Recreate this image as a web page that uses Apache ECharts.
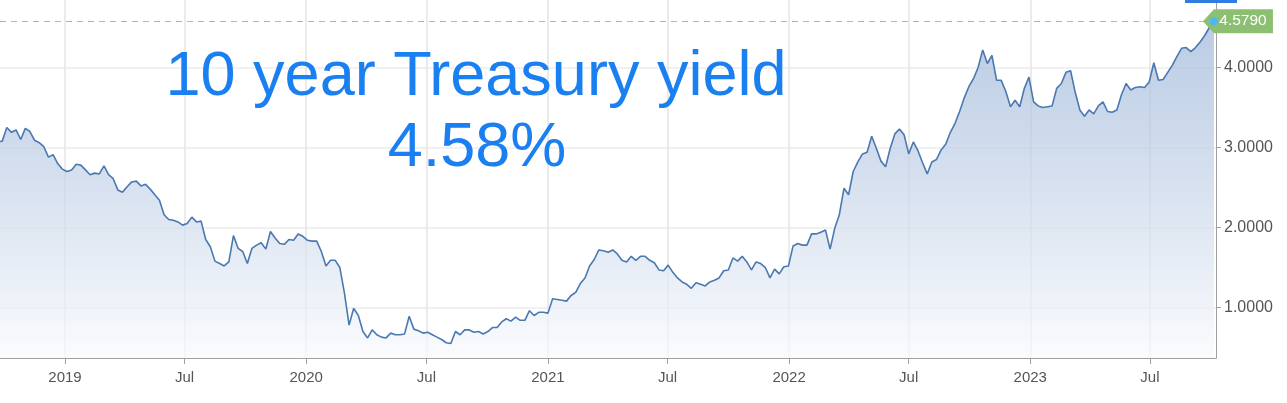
<!DOCTYPE html>
<html>
<head>
<meta charset="utf-8">
<script src="https://cdn.jsdelivr.net/npm/echarts@6/dist/echarts.min.js"></script>
<style>
html,body{margin:0;padding:0;background:#fff;}
#chart{width:1287px;height:403px;}
</style>
</head>
<body>
<div id="chart"></div>
<script>
// Weekly closes, first week ending 2018-09-21
const firstWeek = [2018, 8, 21];
const yields = [
  3.07, 3.08, 3.25, 3.19, 3.22, 3.10, 3.24, 3.20, 3.09, 3.06, 3.01,
  2.88, 2.91, 2.80, 2.73, 2.70, 2.72, 2.79, 2.78, 2.72, 2.66,
  2.68, 2.67, 2.77, 2.66, 2.61, 2.47, 2.44, 2.51, 2.57, 2.58,
  2.52, 2.54, 2.48, 2.41, 2.34, 2.16, 2.10, 2.09, 2.07, 2.03,
  2.05, 2.13, 2.07, 2.08, 1.85, 1.76, 1.58, 1.55, 1.52, 1.57,
  1.90, 1.74, 1.70, 1.55, 1.74, 1.78, 1.81, 1.73, 1.95, 1.87,
  1.80, 1.79, 1.85, 1.84, 1.92, 1.89, 1.84, 1.83, 1.83, 1.70,
  1.52, 1.59, 1.59, 1.50, 1.18, 0.78, 0.99, 0.90, 0.70, 0.62,
  0.72, 0.66, 0.63, 0.62, 0.68, 0.66, 0.66, 0.67, 0.89, 0.73,
  0.71, 0.68, 0.69, 0.66, 0.63, 0.60, 0.56, 0.55, 0.70, 0.66,
  0.72, 0.72, 0.69, 0.70, 0.67, 0.70, 0.75, 0.75, 0.82, 0.86,
  0.83, 0.88, 0.84, 0.84, 0.96, 0.90, 0.94, 0.94, 0.93, 1.11,
  1.10, 1.09, 1.08, 1.15, 1.19, 1.30, 1.37, 1.52, 1.60, 1.72,
  1.71, 1.69, 1.72, 1.67, 1.59, 1.57, 1.64, 1.59, 1.64, 1.64,
  1.59, 1.56, 1.47, 1.46, 1.53, 1.44, 1.37, 1.32, 1.29, 1.24,
  1.31, 1.29, 1.27, 1.32, 1.34, 1.37, 1.46, 1.47, 1.62, 1.58,
  1.64, 1.57, 1.47, 1.57, 1.55, 1.50, 1.37, 1.48, 1.42, 1.51,
  1.52, 1.77, 1.80, 1.78, 1.78, 1.92, 1.92, 1.94, 1.97, 1.73,
  1.99, 2.16, 2.49, 2.41, 2.70, 2.82, 2.92, 2.94, 3.14, 2.99,
  2.83, 2.76, 2.99, 3.17, 3.23, 3.16, 2.92, 3.07, 2.96, 2.81,
  2.67, 2.82, 2.85, 2.97, 3.04, 3.19, 3.30, 3.45, 3.62, 3.76,
  3.86, 4.00, 4.22, 4.05, 4.15, 3.84, 3.84, 3.70, 3.51, 3.59,
  3.51, 3.74, 3.88, 3.57, 3.52, 3.50, 3.51, 3.52, 3.74, 3.80,
  3.94, 3.96, 3.69, 3.47, 3.39, 3.47, 3.42, 3.52, 3.57, 3.45,
  3.44, 3.47, 3.66, 3.80, 3.72, 3.75, 3.76, 3.75, 3.82, 4.06,
  3.84, 3.85, 3.94, 4.03, 4.14, 4.24, 4.25, 4.20, 4.25, 4.32,
  4.40, 4.50, 4.579
];
const xTickDates = ['2019-01-01','2019-07-01','2020-01-01','2020-07-01','2021-01-01','2021-07-01','2022-01-01','2022-07-01','2023-01-01','2023-07-01'];
const xTickLabels = ['2019','Jul','2020','Jul','2021','Jul','2022','Jul','2023','Jul'];
const yTickValues = [1, 2, 3, 4];
const titleLines = ['10 year Treasury yield', '4.58%'];

function ts(s) { const p = s.split(/[- :]/).map(Number); return new Date(p[0], p[1]-1, p[2], p[3]||0, p[4]||0).getTime(); }
const weeks = yields.map((v, i) => new Date(firstWeek[0], firstWeek[1], firstWeek[2] + 7*i).getTime());
const seriesData = weeks.map((t, i) => [t, yields[i]]);
const xTicks = xTickDates.map(ts);
const labelOf = {}; xTicks.forEach((t, i) => labelOf[t] = xTickLabels[i]);
const xMin = ts('2018-09-24 16:00');
const xMax = ts('2023-10-09 02:00');
const lastT = weeks[weeks.length-1], lastV = yields[yields.length-1];

const chart = echarts.init(document.getElementById('chart'), null, {renderer:'canvas'});
const FONT = '"Liberation Sans", Arial, sans-serif';
chart.setOption({
  animation: false,
  backgroundColor: '#ffffff',
  grid: {left: 0, right: 71, top: 0, bottom: 45, containLabel: false},
  xAxis: {
    type: 'value', min: xMin, max: xMax,
    axisLine: {show: true, lineStyle: {color: '#a0a0a0', width: 1}},
    axisTick: {show: true, customValues: xTicks, length: 6, lineStyle: {color: '#a0a0a0'}},
    axisLabel: {customValues: xTicks, formatter: v => labelOf[v] || '', color: '#555', fontSize: 15, fontFamily: FONT, margin: 12, hideOverlap: false},
    splitLine: {show: true, lineStyle: {color: '#e4e4e4', width: 1.5}}
  },
  yAxis: {
    type: 'value', position: 'right', min: 0.369, max: 4.844,
    axisLine: {show: true, lineStyle: {color: '#a0a0a0', width: 1}},
    axisTick: {show: true, customValues: yTickValues, length: 5, lineStyle: {color: '#a0a0a0'}},
    axisLabel: {customValues: yTickValues, formatter: v => v.toFixed(4), color: '#555', fontSize: 16, fontFamily: FONT, margin: 8},
    splitLine: {show: true, lineStyle: {color: '#ececec', width: 1.5}}
  },
  series: [{
    type: 'line',
    data: seriesData,
    symbol: 'none',
    clip: true,
    lineStyle: {color: '#4a78b0', width: 1.6},
    areaStyle: {color: new echarts.graphic.LinearGradient(0, 0, 0, 1, [
      {offset: 0, color: '#9cb5d8'},
      {offset: 0.5, color: '#c7d5e9'},
      {offset: 1, color: '#f8fafd'}
    ])},
    markLine: {
      silent: true, symbol: ['none', 'none'], label: {show: false},
      lineStyle: {type: [6, 5], color: '#a5c095', width: 1},
      data: [[{coord: [xMin, lastV]}, {coord: [lastT, lastV]}]]
    },
    markPoint: {
      silent: true,
      data: [
        {coord: [lastT, lastV], symbol: 'path://M0,12 L11,0 L70,0 L70,24 L11,24 Z', symbolKeepAspect: false,
         symbolSize: [70, 24], symbolOffset: [24, 0], itemStyle: {color: '#8dbf72'},
         label: {show: true, position: 'inside', offset: [5, 0], formatter: () => lastV.toFixed(4), color: '#fff', fontSize: 15.5, fontFamily: FONT}},
        {coord: [lastT, lastV], symbol: 'circle', symbolSize: 8, itemStyle: {color: '#4fb6ef'}, label: {show: false}}
      ]
    }
  }],
  graphic: [
    {type: 'text', z: 100, style: {text: titleLines[0], x: 476, y: 78, textAlign: 'center', textVerticalAlign: 'middle', fill: '#1a7ff0', font: '63px "Liberation Sans", Arial, sans-serif'}},
    {type: 'text', z: 100, style: {text: titleLines[1], x: 477, y: 149, textAlign: 'center', textVerticalAlign: 'middle', fill: '#1a7ff0', font: '63px "Liberation Sans", Arial, sans-serif'}},
    {type: 'rect', z: 100, shape: {x: 1185, y: 0, width: 52, height: 3}, style: {fill: '#2f7de1'}}
  ]
});
</script>
</body>
</html>
